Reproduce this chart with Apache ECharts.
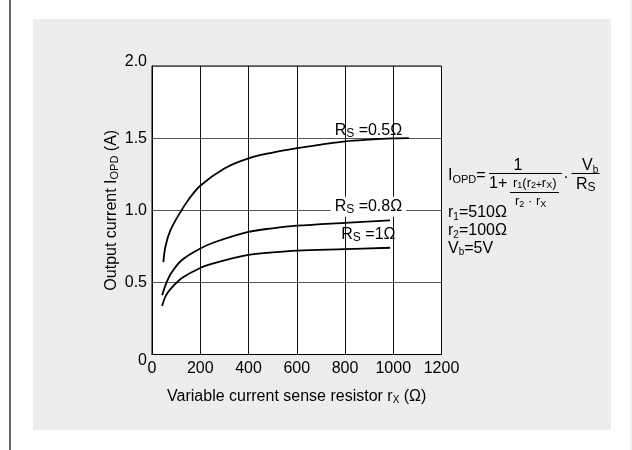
<!DOCTYPE html>
<html>
<head>
<meta charset="utf-8">
<script src="https://cdn.jsdelivr.net/npm/echarts@6/dist/echarts.min.js"></script>
<style>
html,body{margin:0;padding:0;background:#fff;}
#c{width:632px;height:450px;}
</style>
</head>
<body>
<div id="c"></div>
<script>
// ---- data ----
const seriesNames = ['Rs =0.5Ω', 'Rs =0.8Ω', 'Rs =1Ω'];
const rs05 = [[47,0.64],[56,0.75],[76,0.86],[115,0.98],[152,1.075],[200,1.17],[300,1.29],[400,1.36],[500,1.40],[600,1.43],[700,1.455],[800,1.478],[900,1.49],[1000,1.498],[1065,1.5]];
const rs08 = [[42,0.41],[58,0.49],[80,0.565],[124,0.655],[200,0.735],[262,0.78],[400,0.85],[500,0.875],[600,0.893],[800,0.913],[987,0.93]];
const rs1  = [[42,0.337],[58,0.41],[83,0.465],[124,0.53],[200,0.60],[262,0.635],[400,0.69],[500,0.708],[600,0.72],[800,0.73],[987,0.74]];
const labelPos = [[897,1.551],[897,1.024],[897,0.83]];
const xRange = [0, 1200, 200];
const yRange = [0, 2.0, 0.5];

const FONT = '"Liberation Sans", Arial, sans-serif';
const chart = echarts.init(document.getElementById('c'), null, {renderer:'canvas'});

function curve(name, data, lp, bg) {
  return {
    type: 'line', name: name, data: data, smooth: 0.35,
    showSymbol: false, symbol: 'none',
    lineStyle: {color: '#000', width: 1.8},
    z: 3,
    markPoint: {
      symbol: 'rect', symbolSize: 0, silent: true,
      data: [{coord: lp}],
      label: {
        show: true, position: 'inside',
        formatter: '{r|R}{s|S}{r| ' + name.slice(3) + '}',
        backgroundColor: bg ? '#fff' : 'transparent',
        padding: bg ? [1, 4] : 0,
        rich: {
          r: {fontSize: 16, fontFamily: FONT, color: '#000', lineHeight: 18},
          s: {fontSize: 12, fontFamily: FONT, color: '#000', lineHeight: 16, verticalAlign: 'bottom'}
        }
      }
    }
  };
}

const t = (txt, x, y, size, opts) => Object.assign({
  type: 'text', x: x, y: y, silent: true, z: 10,
  style: Object.assign({text: txt, fill: '#000', font: size + 'px ' + FONT, textVerticalAlign: 'middle', verticalAlign: 'middle'}, opts || {})
});
const richSub = (main, sub) => ({
  m: {fontSize: main, fontFamily: FONT, fill: '#000', color:'#000', lineHeight: main + 2},
  s: {fontSize: sub, fontFamily: FONT, fill: '#000', color:'#000', lineHeight: sub, verticalAlign: 'bottom'},
  c: {fontSize: sub + 1, fontFamily: FONT, fill: '#000', color:'#000', lineHeight: sub + 3, verticalAlign: 'bottom'}
});
const hline = (x1, x2, y, w) => ({type: 'line', silent: true, z: 10, shape: {x1: x1, y1: y, x2: x2, y2: y}, style: {stroke: '#000', lineWidth: w || 1}});

chart.setOption({
  animation: false,
  backgroundColor: '#fff',
  graphic: [
    {type: 'rect', shape: {x: 33, y: 19, width: 578, height: 411}, style: {fill: '#ededed'}, z: -10, silent: true},
    {type: 'line', shape: {x1: 10, y1: 0, x2: 10, y2: 450}, style: {stroke: '#333', lineWidth: 1.5}, silent: true},
    {type: 'line', shape: {x1: 631, y1: 0, x2: 631, y2: 450}, style: {stroke: '#e6e6e6', lineWidth: 1}, silent: true},
    // formula
    t('{m|I}{c|OPD}{m|=}', 448, 176, 16, {rich: richSub(16, 10)}),
    hline(489, 562, 173.5),
    t('1', 518, 166, 16, {align: 'center', textAlign: 'center'}),
    t('1+', 489, 184, 16),
    t('{m|r}{s|1}{m|(r}{s|2}{p|+}{m|r}{s|X}{m|)}', 513, 183, 13, {rich: Object.assign(richSub(13, 9), {p: {fontSize: 10, fontFamily: FONT, fill:'#000', color:'#000', lineHeight: 10, verticalAlign: 'bottom'}})}),
    hline(510, 559, 192.5),
    t('{m|r}{s|2}{m| · r}{s|X}', 515, 201.5, 13, {rich: richSub(13, 9)}),
    t('·', 566, 178, 16, {align: 'center', textAlign: 'center'}),
    t('{m|V}{s|b}', 582, 166, 16, {rich: richSub(16, 10)}),
    hline(571.5, 599.5, 173.5),
    t('{m|R}{c|S}', 576, 185, 16, {rich: richSub(16, 11)}),
    t('{m|r}{s|1}{m|=510Ω}', 448, 213, 16, {rich: richSub(16, 10)}),
    t('{m|r}{s|2}{m|=100Ω}', 448, 230.8, 16, {rich: richSub(16, 10)}),
    t('{m|V}{s|b}{m|=5V}', 448, 248.5, 16, {rich: richSub(16, 10)})
  ],
  grid: {left: 152, top: 66, width: 289.5, height: 288.5, show: true, backgroundColor: '#fff', borderColor: '#000', borderWidth: 1, containLabel: false},
  xAxis: {
    type: 'value', min: xRange[0], max: xRange[1], interval: xRange[2],
    name: '{m|Variable current sense resistor r}{s|X}{m| (Ω)}',
    nameLocation: 'middle', nameGap: 33,
    nameTextStyle: {rich: {
      m: {fontSize: 16, fontFamily: FONT, color: '#000', lineHeight: 18},
      s: {fontSize: 10, fontFamily: FONT, color: '#000', lineHeight: 10, verticalAlign: 'bottom'}
    }},
    axisLine: {show: true, lineStyle: {color: '#000', width: 1}},
    axisTick: {show: false},
    axisLabel: {color: '#000', fontSize: 16, fontFamily: FONT, margin: 6, formatter: v => String(v)},
    splitLine: {show: true, lineStyle: {color: '#111', width: 1}}
  },
  yAxis: {
    type: 'value', min: yRange[0], max: yRange[1], interval: yRange[2],
    name: '{m|Output current I}{s|OPD}{m| (A)}',
    nameLocation: 'middle', nameGap: 31,
    nameTextStyle: {rich: {
      m: {fontSize: 16, fontFamily: FONT, color: '#000', lineHeight: 18},
      s: {fontSize: 11, fontFamily: FONT, color: '#000', lineHeight: 13, verticalAlign: 'bottom'}
    }},
    axisLine: {show: true, lineStyle: {color: '#000', width: 1}},
    axisTick: {show: false},
    axisLabel: {
      color: '#000', fontSize: 16, fontFamily: FONT, margin: 5,
      formatter: v => v === 0 ? '{z|0}' : (v === 2 ? '{t|2.0}' : '{n|' + v.toFixed(1) + '}'),
      rich: {
        z: {fontSize: 16, fontFamily: FONT, color: '#000', padding: [12, 0, 0, 0]},
        t: {fontSize: 16, fontFamily: FONT, color: '#000', padding: [0, 0, 9, 0]},
        n: {fontSize: 16, fontFamily: FONT, color: '#000'}
      }
    },
    splitLine: {show: true, lineStyle: {color: '#555', width: 1.2}}
  },
  series: [
    curve(seriesNames[0], rs05, labelPos[0], false),
    curve(seriesNames[1], rs08, labelPos[1], true),
    curve(seriesNames[2], rs1, labelPos[2], false)
  ]
});
</script>
</body>
</html>
